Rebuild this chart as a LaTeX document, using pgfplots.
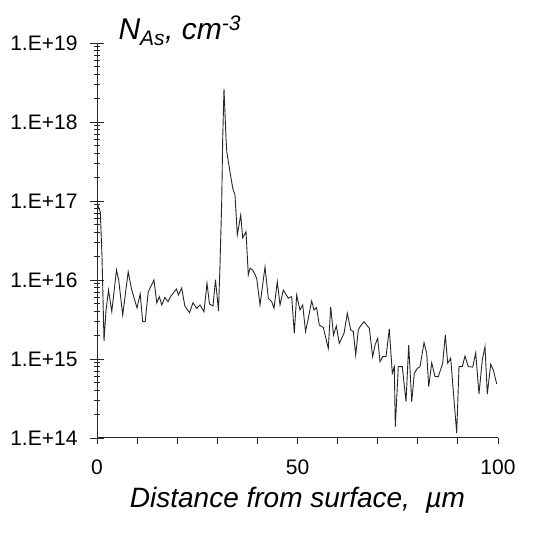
\documentclass[border=0pt]{standalone}
\usepackage{fontspec}
\setmainfont{Liberation Sans}
\usepackage{pgfplots}
\pgfplotsset{compat=1.18}

\begin{document}
\begin{tikzpicture}
\begin{axis}[
    at={(0pt,0pt)}, anchor=south west,
    scale only axis,
    width=401pt, height=395pt,
    xmin=0, xmax=100,
    ymin=1e14, ymax=1e19,
    ymode=log,
    axis x line=bottom, axis y line=left,
    axis line style={-, line width=1pt, black!85},
    every tick/.style={line width=0.9pt, black!85},
    xtick={0,10,...,100},
    xticklabels={0,,,,,50,,,,,100},
    xtick align=outside,
    major tick length=6pt,
    ytick={1e14,1e15,1e16,1e17,1e18,1e19},
    yticklabels={1.E+14,1.E+15,1.E+16,1.E+17,1.E+18,1.E+19},
    ytick align=center,
    y tick style={/pgfplots/major tick length=15pt, /pgfplots/minor tick length=6pt},
    tick label style={font=\fontsize{21}{24}\selectfont},
    yticklabel style={xshift=-13pt},
    xticklabel style={yshift=-12pt},
    xlabel={\itshape Distance from surface,\ \ \textmu m},
    xlabel style={font=\fontsize{28}{32}\selectfont, yshift=-6pt},
    ylabel={\itshape N\textsubscript{As}, cm\textsuperscript{-3}},
    every axis y label/.style={at={(rel axis cs:0,1)}, anchor=west,
        xshift=18pt, yshift=12pt, font=\fontsize{30}{34}\selectfont},
    clip=false,
]
\addplot[black!85, line width=0.9pt] coordinates {
(0.2,8.9e16) (0.82,7.3e16) (1.25,1.95e16) (1.75,1.69e15) (2.24,4.05e15)
(2.87,7.47e15) (3.69,3.97e15) (4.86,1.34e16) (5.41,1.0e16) (6.41,3.6e15)
(7.78,1.27e16) (8.60,7.7e15) (9.98,4.42e15) (10.77,6.65e15) (11.40,2.97e15)
(12.02,2.97e15) (12.77,7.05e15) (14.21,1.0e16) (14.91,5.12e15) (15.54,6.15e15)
(16.16,4.83e15) (16.91,6.0e15) (17.71,5.31e15) (18.28,6.1e15) (19.03,6.84e15)
(19.83,7.7e15) (20.32,6.46e15) (21.12,7.92e15) (21.90,4.69e15) (23.07,3.86e15)
(23.94,5.16e15) (24.86,4.36e15) (25.69,4.83e15) (26.68,3.97e15) (27.43,9.08e15)
(28.05,4.97e15) (28.93,4.69e15) (29.55,1.01e16) (30.30,4.05e15) (30.67,1.55e16)
(31.10,9.8e16) (31.35,6.27e17) (31.67,2.62e18) (32.17,6.27e17) (32.37,4.17e17)
(33.17,2.33e17) (33.84,1.46e17) (34.41,1.19e17) (34.99,3.72e16) (35.84,6.65e16)
(36.33,3.4e16) (37.16,4.08e16) (37.73,1.16e16) (38.15,1.41e16) (38.83,1.34e16)
(39.83,1.05e16) (40.65,4.83e15) (41.90,1.46e16) (42.72,5.87e15) (43.57,5.31e15)
(44.14,4.39e15) (44.96,9.5e15) (45.64,4.83e15) (46.46,7.47e15) (47.71,5.87e15)
(48.55,6.15e15) (49.20,2.11e15) (49.80,6.46e15) (50.62,4.17e15) (51.30,4.83e15)
(52.00,2.22e15) (52.69,3.27e15) (53.54,5.42e15) (54.11,4.17e15) (54.74,4.49e15)
(55.44,2.69e15) (56.43,2.51e15) (57.68,1.36e15) (58.28,4.55e15) (58.98,2.01e15)
(59.68,2.62e15) (60.42,1.58e15) (61.60,2.11e15) (62.42,3.79e15) (63.27,2.33e15)
(63.92,2.22e15) (64.51,1.12e15) (65.16,2.33e15) (65.59,2.56e15) (66.58,2.97e15)
(67.91,2.45e15) (68.75,1.07e15) (69.33,1.5e15) (70.00,1.83e15) (70.57,9.25e14)
(71.25,1.07e15) (72.07,1.07e15) (72.89,2.4e15) (73.64,6.6e14) (74.14,8.0e14)
(74.39,1.39e14) (75.14,8.0e14) (76.13,8.0e14) (77.06,2.88e14) (77.73,1.5e15)
(78.48,2.88e14) (79.13,6.6e14) (79.88,7.6e14) (80.55,8.0e14) (81.55,1.61e15)
(82.22,1.18e15) (82.72,4.46e14) (83.47,8.98e14) (84.29,5.97e14) (85.11,5.97e14)
(86.21,8.83e14) (86.86,2.01e15) (87.46,8.83e14) (88.20,1.02e15) (89.03,3.03e14)
(89.70,1.15e14) (90.27,8.0e14) (91.10,8.0e14) (91.77,1.09e15) (92.59,8.0e14)
(93.69,7.9e14) (94.44,1.2e15) (95.26,3.61e14) (96.08,9.7e14) (96.76,1.43e15)
(97.33,3.6e14) (98.18,8.57e14) (98.83,7.26e14) (99.68,4.83e14)
};
\end{axis}
\pgfresetboundingbox
\path (-97pt,-99pt) rectangle (435pt,438pt);
\end{tikzpicture}
\end{document}
